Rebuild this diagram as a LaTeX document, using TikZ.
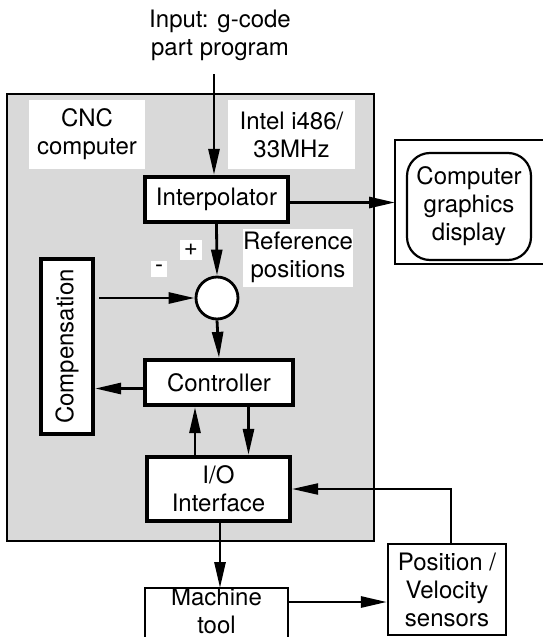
\documentclass[tikz,border=0pt]{standalone}
\usepackage{fontspec}
\setmainfont{TeX Gyre Heros}
\usetikzlibrary{arrows.meta}

\begin{document}
\begin{tikzpicture}[x=1pt,y=-1pt,
    every node/.style={font=\fontsize{24}{28}\selectfont,align=center,inner sep=0pt},
    block/.style={draw,line width=4.2pt,fill=white},
    thinblock/.style={draw,line width=2.2pt,fill=white},
    patch/.style={fill=white},
    arr/.style={line width=2.8pt,-{Triangle[length=26pt,width=11pt]}}]
  \useasboundingbox (0,0) rectangle (542,637);
  % computer box
  \draw[line width=2.4pt,fill=black!15] (7,94) rectangle (374,541);
  \node[patch,minimum width=116,minimum height=69] (cnc) at (87,134.5) {CNC\\computer};
  \node[patch,minimum width=127,minimum height=69] (cpu) at (291.5,134.5) {Intel i486/\\33MHz};
  \node (input) at (220,35) {Input: g-code\\part program};
  \coordinate (in) at (214,74);

  \node[block,minimum width=143,minimum height=45] (interp) at (216.5,199.5) {Interpolator};
  \node[circle,draw,line width=2.8pt,fill=white,minimum size=42] (sum) at (217,298) {};
  \node[patch,inner sep=4pt] (plus) at (191,250) {+};
  \node[patch,inner sep=4pt] (minus) at (159,269) {-};
  \node[patch,minimum width=110,minimum height=58] (ref) at (298,257.5) {Reference\\positions};
  \node[block,minimum width=175,minimum height=52,rotate=90] (comp) at (67,346.5) {Compensation};
  \node[block,minimum width=148,minimum height=45] (ctrl) at (219,382.5) {Controller};
  \node[block,minimum width=143,minimum height=64] (io) at (218.5,489) {I/O\\Interface};

  % outside the computer
  \draw[line width=1.8pt,fill=white] (395,140) rectangle (570,264);
  \node[draw,line width=2.2pt,rounded corners=23pt,minimum width=124,minimum height=107] (disp) at (469,206.5) {Computer\\graphics\\display};
  \node[minimum width=143,minimum height=42,anchor=north] (mach) at (216.5,588) {Machine\\tool};
  \draw[line width=2.2pt] ([yshift=-25pt]mach.south west) -- (mach.north west)
    -- (mach.north east) -- ([yshift=-25pt]mach.south east);
  \node[thinblock,minimum width=118,minimum height=91] (sens) at (447,589.5) {Position /\\Velocity\\sensors};

  \draw[arr] (in) -- (in |- interp.north);
  \draw[arr] ([yshift=-3pt]interp.east) -- ([yshift=-3pt]interp.east -| 395,0);
  \draw[arr] (interp.south) -- (sum.north);
  \draw[arr] ([xshift=4pt]comp.south |- sum.west) -- (sum.west);
  \draw[arr] (sum.south) -- (ctrl.north);
  \draw[arr] ([yshift=-6pt]ctrl.west) -- ([yshift=-6pt]ctrl.west -| comp.south);
  \draw[arr] ([xshift=-23.5pt]io.north) -- ([xshift=-23.5pt]io.north |- ctrl.south);
  \draw[arr] ([xshift=29.5pt]ctrl.south) -- ([xshift=29.5pt]ctrl.south |- io.north);
  \draw[arr] ([xshift=1.5pt]io.south) -- ([xshift=1.5pt]io.south |- mach.north);
  \draw[arr] ([yshift=-12.5pt]sens.west -| mach.east) -- ([yshift=-12.5pt]sens.west);
  \draw[arr,line width=2.2pt] ([xshift=4pt]sens.north) |- (io.east);
\end{tikzpicture}
\end{document}
